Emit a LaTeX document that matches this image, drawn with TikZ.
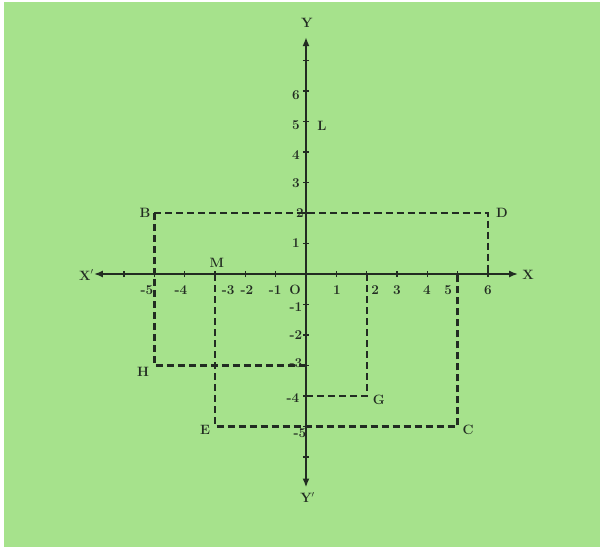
\documentclass[tikz,border=0pt]{standalone}
\usetikzlibrary{arrows.meta}
\definecolor{bg}{RGB}{166,226,140}
\definecolor{ink}{RGB}{34,44,34}
\begin{document}
\begin{tikzpicture}[x=30.3pt,y=30.5pt,
  font=\fontsize{13.5}{15}\selectfont\bfseries,
  axis/.style={ink, line width=2.2pt, {Latex[length=9pt,width=7pt]}-{Latex[length=9pt,width=7pt]}},
  dline/.style={ink, line width=2.1pt, dash pattern=on 7pt off 4pt},
  lbl/.style={ink, inner sep=0pt},
  tickmark/.style={ink, line width=1.4pt}]
\useasboundingbox ({-306/30.3},{274/30.5}) rectangle ({(600-306)/30.3},{-(550-274)/30.5});
\fill[white] ({-306/30.3},{274/30.5}) rectangle ({(600-306)/30.3},{-(550-274)/30.5});
\fill[bg] ({(4-306)/30.3},{(274-2)/30.5}) rectangle ({(600-306)/30.3},{-(547-274)/30.5});

% points
\coordinate (O) at (0,0);
\coordinate (xl) at (-7,0);
\coordinate (xr) at (7,0);
\coordinate (yt) at (0,7.77);
\coordinate (yb) at (0,-7);
\coordinate (B) at (-5,2);
\coordinate (D) at (6,2);
\coordinate (D0) at (6,0);
\coordinate (H) at (-5,-3);
\coordinate (H0) at (0,-3);
\coordinate (M) at (-3,0);
\coordinate (E) at (-3,-5);
\coordinate (C) at (5,-5);
\coordinate (C0) at (5,0);
\coordinate (G) at (2,-4);
\coordinate (G0) at (2,0);
\coordinate (G1) at (0,-4);

% dashed figures
\draw[dline] (B) -- (D) -- (D0);
\draw[dline] (B) -- (H) -- (H0);
\draw[dline] (M) -- (E) -- (C) -- (C0);
\draw[dline] (G0) -- (G) -- (G1);

% axes
\draw[axis] (xl) -- (xr);
\draw[axis] (yb) -- (yt);
\foreach \i in {-6,...,-1,1,2,...,6}
  \draw[tickmark] (\i,-0.1) -- (\i,0.1);
\foreach \i in {-6,...,-1,1,2,...,7}
  \draw[tickmark] (-0.1,\i) -- (0.1,\i);

% x-axis numbers
\foreach \p/\t/\n in {-5.25/-5/xa, -4.13/-4/xb, -2.57/-3/xc, -1.95/-2/xd, -1.02/-1/xe, -0.36/O/xo,
  1.02/1/xf, 2.28/2/xg, 3.0/3/xh, 3.99/4/xi, 4.69/5/xj, 6.0/6/xk}
  \node[lbl] (\n) at (\p,-0.52) {\t};

% y-axis numbers
\foreach \q/\t/\n in {5.87/6/ya, 4.89/5/yb5, 3.9/4/yc, 2.98/3/yd, 1.02/1/yf, -1.08/-1/yg, -2.0/-2/yh, -2.92/-3/yi}
  \node[lbl] (\n) at (-0.33,\q) {\t};
\node[lbl] (y2) at (-0.2,2.0) {2};
\node[lbl] (ym4) at (-0.43,-4.07) {-4};
\node[lbl] (ym5) at (-0.2,-5.21) {-5};

% letters
\node[lbl] (lB) at (-5.31,2.0) {B};
\node[lbl] (lD) at (6.47,2.0) {D};
\node[lbl] (lM) at (-2.94,0.36) {M};
\node[lbl] (lXp) at (-7.25,-0.03) {X$'$};
\node[lbl] (lX) at (7.33,-0.03) {X};
\node[lbl] (lH) at (-5.38,-3.21) {H};
\node[lbl] (lG) at (2.4,-4.13) {G};
\node[lbl] (lE) at (-3.33,-5.11) {E};
\node[lbl] (lC) at (5.35,-5.11) {C};
\node[lbl] (lYp) at (0.05,-7.34) {Y$'$};
\node[lbl] (lY) at (0.03,8.23) {Y};
\node[lbl] (lL) at (0.53,4.85) {L};
\end{tikzpicture}
\end{document}
